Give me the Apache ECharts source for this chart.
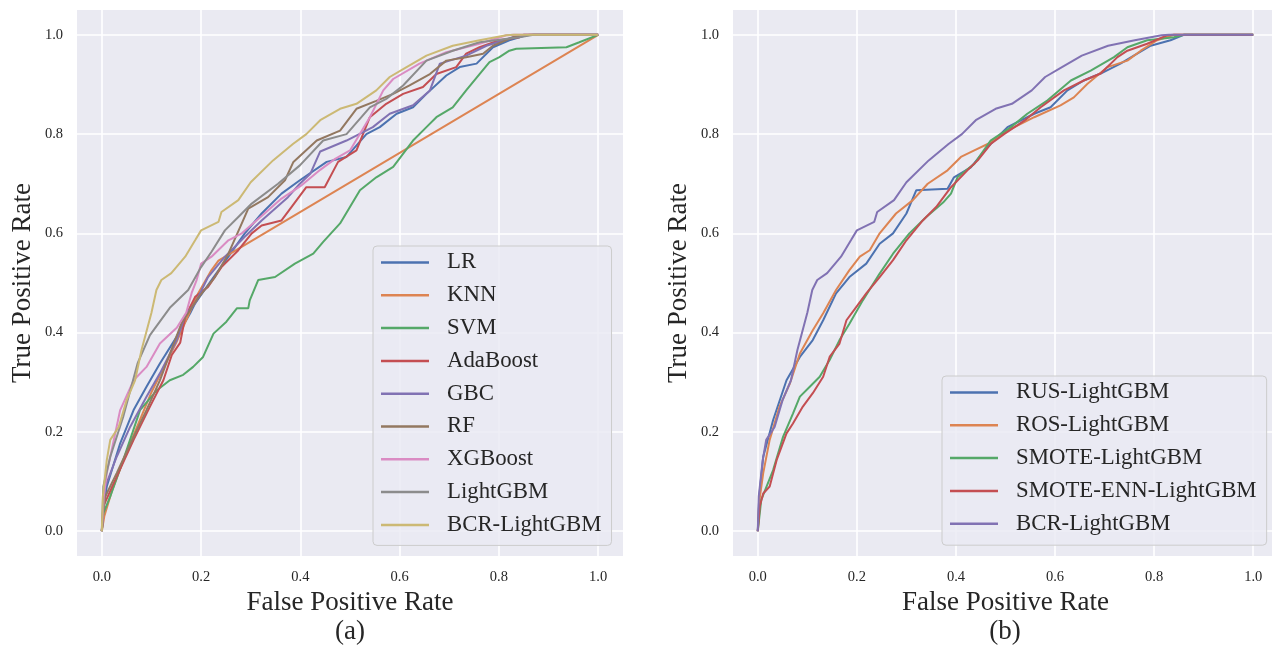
<!DOCTYPE html>
<html>
<head>
<meta charset="utf-8">
<script src="https://cdn.jsdelivr.net/npm/echarts@6/dist/echarts.min.js"></script>
<style>
	html, body { margin: 0; padding: 0; background: #ffffff; }
	#roc_chart { width: 1272px; height: 646px; }
</style>
</head>
<body>
<div id="roc_chart"></div>
<script>
// tick values for both axes
var tickValues = [0, 0.2, 0.4, 0.6, 0.8, 1.0];

// (a) ROC points [FPR, TPR]
var lrPoints = [[0,0],[0.004,0.05],[0.01,0.09],[0.037,0.177],[0.064,0.244],[0.09,0.291],[0.117,0.338],[0.151,0.392],[0.178,0.439],[0.188,0.459],[0.221,0.506],[0.255,0.553],[0.288,0.6],[0.322,0.64],[0.362,0.68],[0.399,0.707],[0.453,0.744],[0.493,0.754],[0.533,0.8],[0.56,0.814],[0.594,0.841],[0.627,0.854],[0.654,0.881],[0.694,0.918],[0.721,0.935],[0.755,0.942],[0.788,0.975],[0.821,0.989],[0.855,0.999],[0.87,1],[1,1]];
var knnPoints = [[0,0],[0.005,0.03],[0.02,0.08],[0.05,0.16],[0.1,0.28],[0.15,0.38],[0.194,0.479],[0.221,0.526],[0.235,0.545],[1,1]];
var svmPoints = [[0,0],[0.003,0.036],[0.017,0.07],[0.043,0.143],[0.077,0.244],[0.111,0.284],[0.137,0.304],[0.164,0.315],[0.184,0.331],[0.204,0.351],[0.225,0.398],[0.251,0.422],[0.272,0.449],[0.295,0.449],[0.298,0.465],[0.315,0.506],[0.349,0.512],[0.389,0.539],[0.426,0.559],[0.446,0.583],[0.48,0.62],[0.52,0.687],[0.553,0.713],[0.587,0.734],[0.627,0.787],[0.654,0.814],[0.674,0.834],[0.707,0.854],[0.734,0.888],[0.761,0.921],[0.781,0.945],[0.801,0.955],[0.821,0.968],[0.835,0.972],[0.936,0.975],[0.962,0.985],[1,1]];
var adaPoints = [[0,0],[0.003,0.05],[0.03,0.11],[0.064,0.184],[0.097,0.251],[0.124,0.304],[0.141,0.355],[0.158,0.38],[0.168,0.432],[0.188,0.472],[0.214,0.492],[0.241,0.532],[0.275,0.566],[0.302,0.6],[0.322,0.616],[0.362,0.626],[0.382,0.653],[0.412,0.693],[0.449,0.693],[0.476,0.744],[0.513,0.767],[0.54,0.834],[0.573,0.861],[0.607,0.881],[0.647,0.895],[0.674,0.921],[0.714,0.935],[0.734,0.962],[0.761,0.975],[0.801,0.989],[0.841,0.995],[0.85,1],[1,1]];
var gbcPoints = [[0,0],[0.003,0.05],[0.007,0.09],[0.03,0.15],[0.057,0.21],[0.09,0.271],[0.117,0.318],[0.151,0.385],[0.168,0.435],[0.188,0.459],[0.214,0.512],[0.248,0.553],[0.288,0.593],[0.322,0.626],[0.375,0.673],[0.399,0.7],[0.42,0.72],[0.44,0.765],[0.493,0.787],[0.546,0.814],[0.58,0.841],[0.627,0.858],[0.661,0.888],[0.681,0.942],[0.734,0.958],[0.775,0.978],[0.828,0.995],[0.85,1],[1,1]];
var rfPoints = [[0,0],[0.003,0.04],[0.007,0.07],[0.03,0.117],[0.064,0.19],[0.09,0.244],[0.117,0.304],[0.14,0.365],[0.161,0.42],[0.194,0.47],[0.228,0.512],[0.255,0.559],[0.282,0.62],[0.295,0.65],[0.335,0.673],[0.369,0.707],[0.386,0.744],[0.433,0.787],[0.48,0.807],[0.513,0.851],[0.553,0.867],[0.587,0.881],[0.62,0.898],[0.661,0.921],[0.694,0.948],[0.734,0.955],[0.768,0.962],[0.788,0.978],[0.828,0.995],[0.862,1],[1,1]];
var xgbPoints = [[0,0],[0.004,0.07],[0.01,0.117],[0.037,0.244],[0.064,0.304],[0.09,0.331],[0.117,0.378],[0.151,0.41],[0.17,0.44],[0.181,0.48],[0.191,0.506],[0.2,0.539],[0.221,0.553],[0.255,0.586],[0.282,0.6],[0.322,0.635],[0.362,0.67],[0.4,0.695],[0.44,0.728],[0.47,0.75],[0.5,0.767],[0.54,0.834],[0.567,0.888],[0.587,0.911],[0.64,0.942],[0.694,0.965],[0.761,0.982],[0.815,0.999],[0.83,1],[1,1]];
var lgbmPoints = [[0,0],[0.003,0.09],[0.017,0.15],[0.043,0.23],[0.072,0.338],[0.097,0.395],[0.137,0.45],[0.174,0.486],[0.2,0.532],[0.221,0.563],[0.248,0.606],[0.275,0.633],[0.302,0.66],[0.355,0.7],[0.399,0.737],[0.446,0.787],[0.493,0.8],[0.54,0.854],[0.573,0.871],[0.607,0.898],[0.654,0.948],[0.707,0.968],[0.761,0.985],[0.841,0.995],[0.87,1],[1,1]];
var bcrPoints = [[0,0],[0.002,0.07],[0.01,0.143],[0.017,0.184],[0.034,0.21],[0.05,0.264],[0.067,0.304],[0.08,0.365],[0.1,0.44],[0.11,0.486],[0.12,0.506],[0.14,0.52],[0.168,0.553],[0.188,0.586],[0.2,0.606],[0.235,0.623],[0.241,0.643],[0.275,0.667],[0.3,0.703],[0.345,0.747],[0.385,0.78],[0.412,0.8],[0.44,0.828],[0.48,0.851],[0.513,0.861],[0.553,0.888],[0.58,0.915],[0.614,0.935],[0.654,0.958],[0.707,0.978],[0.761,0.989],[0.815,0.999],[0.83,1],[1,1]];

// (b) ROC points [FPR, TPR]
var rusPoints = [[0,0],[0.003,0.07],[0.011,0.15],[0.031,0.224],[0.058,0.304],[0.085,0.351],[0.111,0.385],[0.132,0.425],[0.158,0.479],[0.185,0.512],[0.219,0.539],[0.246,0.579],[0.273,0.6],[0.3,0.64],[0.32,0.687],[0.383,0.69],[0.396,0.713],[0.43,0.733],[0.464,0.774],[0.504,0.814],[0.558,0.841],[0.591,0.854],[0.625,0.888],[0.658,0.908],[0.692,0.922],[0.732,0.942],[0.759,0.958],[0.793,0.978],[0.833,0.989],[0.86,1],[1,1]];
var rosPoints = [[0,0],[0.003,0.06],[0.011,0.117],[0.024,0.184],[0.044,0.251],[0.065,0.298],[0.085,0.358],[0.111,0.405],[0.132,0.439],[0.158,0.486],[0.185,0.526],[0.206,0.553],[0.226,0.566],[0.246,0.6],[0.279,0.64],[0.313,0.667],[0.343,0.7],[0.383,0.727],[0.41,0.754],[0.437,0.767],[0.464,0.78],[0.504,0.807],[0.558,0.834],[0.611,0.858],[0.638,0.874],[0.665,0.901],[0.706,0.935],[0.746,0.948],[0.773,0.968],[0.806,0.989],[0.84,1],[1,1]];
var smotePoints = [[0,0],[0.007,0.063],[0.031,0.123],[0.051,0.19],[0.071,0.237],[0.085,0.271],[0.105,0.291],[0.125,0.311],[0.145,0.345],[0.165,0.385],[0.185,0.418],[0.212,0.465],[0.246,0.519],[0.273,0.559],[0.306,0.6],[0.34,0.633],[0.374,0.662],[0.39,0.68],[0.403,0.713],[0.437,0.74],[0.47,0.787],[0.511,0.814],[0.544,0.841],[0.585,0.868],[0.632,0.908],[0.672,0.928],[0.719,0.955],[0.746,0.975],[0.786,0.989],[0.84,0.995],[0.86,1],[1,1]];
var smoteEnnPoints = [[0,0],[0.004,0.05],[0.011,0.076],[0.024,0.09],[0.038,0.143],[0.058,0.197],[0.071,0.217],[0.091,0.251],[0.111,0.278],[0.132,0.311],[0.145,0.351],[0.165,0.378],[0.179,0.425],[0.199,0.452],[0.219,0.479],[0.246,0.512],[0.273,0.546],[0.3,0.586],[0.333,0.626],[0.36,0.653],[0.39,0.693],[0.423,0.727],[0.444,0.747],[0.47,0.78],[0.497,0.8],[0.538,0.827],[0.571,0.854],[0.618,0.888],[0.658,0.908],[0.692,0.922],[0.726,0.955],[0.746,0.968],[0.786,0.982],[0.826,0.999],[0.84,1],[1,1]];

var leftNames = ['LR', 'KNN', 'SVM', 'AdaBoost', 'GBC', 'RF', 'XGBoost', 'LightGBM', 'BCR-LightGBM'];
var leftData = [lrPoints, knnPoints, svmPoints, adaPoints, gbcPoints, rfPoints, xgbPoints, lgbmPoints, bcrPoints];
var rightNames = ['RUS-LightGBM', 'ROS-LightGBM', 'SMOTE-LightGBM', 'SMOTE-ENN-LightGBM', 'BCR-LightGBM'];
var rightData = [rusPoints, rosPoints, smotePoints, smoteEnnPoints, bcrPoints];

// seaborn "deep" palette
var deep = ['#4C72B0', '#DD8452', '#55A868', '#C44E52', '#8172B3', '#937860', '#DA8BC3', '#8C8C8C', '#CCB974'];

var serif = '"Liberation Serif", "Times New Roman", serif';
var textColor = '#262626';

function make_axis(gridIndex, title, gap) {
	return {
		type : 'value',
		gridIndex : gridIndex,
		min : -0.05,
		max : 1.05,
		name : title,
		nameLocation : 'middle',
		nameGap : gap,
		nameTextStyle : { fontFamily : serif, fontSize : 27, color : textColor },
		axisLine : { show : false },
		axisTick : { show : false, customValues : tickValues },
		axisLabel : {
			customValues : tickValues,
			margin : 14,
			fontFamily : serif,
			fontSize : 14.5,
			color : textColor,
			formatter : function(v) { return v.toFixed(1); }
		},
		splitLine : { show : true, lineStyle : { color : '#ffffff', width : 1.6 } }
	};
}

function make_legend(names, colors, left, top, padding) {
	var items = [];
	for (var i = 0; i < names.length; i++) {
		items.push({ name : names[i], itemStyle : { color : colors[i] } });
	}
	return {
		data : items,
		orient : 'vertical',
		left : left,
		top : top,
		padding : padding,
		icon : 'rect',
		itemWidth : 48,
		itemHeight : 2.5,
		itemGap : 9.8,
		backgroundColor : 'rgba(234,234,242,0.8)',
		borderColor : '#cccccc',
		borderWidth : 1,
		borderRadius : 4,
		selectedMode : false,
		textStyle : {
			fontFamily : serif,
			fontSize : 22.8,
			lineHeight : 22.8,
			color : textColor,
			padding : [0, 0, 0, 13]
		}
	};
}

function set_roc_chart() {
	var roc_chart = echarts.init(document.getElementById('roc_chart'));

	var series = [];
	for (var i = 0; i < leftNames.length; i++) {
		series.push({
			name : leftNames[i],
			type : 'line',
			xAxisIndex : 0,
			yAxisIndex : 0,
			showSymbol : false,
			color : deep[i],
			lineStyle : { width : 2 },
			data : leftData[i]
		});
	}
	for (var j = 0; j < rightNames.length; j++) {
		series.push({
			name : rightNames[j],
			type : 'line',
			xAxisIndex : 1,
			yAxisIndex : 1,
			showSymbol : false,
			color : deep[j],
			lineStyle : { width : 2 },
			data : rightData[j]
		});
	}

	var option = {
		animation : false,
		backgroundColor : '#ffffff',
		grid : [
			{ left : 77, top : 10, width : 546, height : 546, outerBoundsMode : 'none', show : true, backgroundColor : '#EAEAF2', borderWidth : 0 },
			{ left : 733, top : 10, width : 545, height : 546, outerBoundsMode : 'none', show : true, backgroundColor : '#EAEAF2', borderWidth : 0 }
		],
		xAxis : [ make_axis(0, 'False Positive Rate', 32), make_axis(1, 'False Positive Rate', 32) ],
		yAxis : [ make_axis(0, 'True Positive Rate', 41), make_axis(1, 'True Positive Rate', 41) ],
		legend : [
			make_legend(leftNames, deep, 373, 246, [5, 10, 9, 8]),
			make_legend(rightNames, deep.slice(0, 5), 942, 376, [5, 10, 10, 8])
		],
		graphic : [
			{ type : 'text', x : 350, y : 632, style : { text : '(a)', align : 'center', verticalAlign : 'middle', font : '27px ' + serif, fill : textColor } },
			{ type : 'text', x : 1005, y : 632, style : { text : '(b)', align : 'center', verticalAlign : 'middle', font : '27px ' + serif, fill : textColor } }
		],
		series : series
	};
	roc_chart.setOption(option);
}

set_roc_chart();
</script>
</body>
</html>
